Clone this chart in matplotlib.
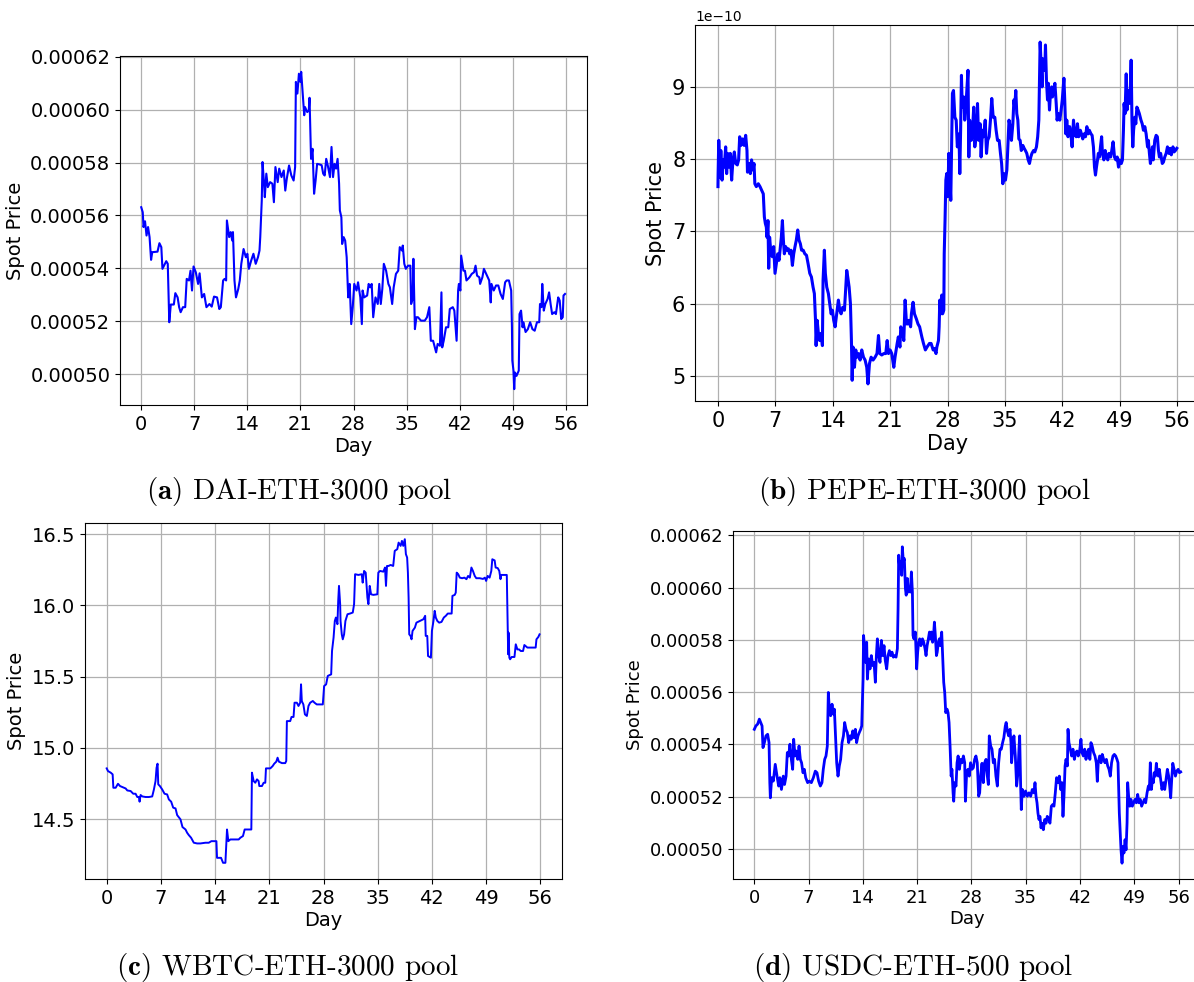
import numpy as np
import matplotlib
matplotlib.use("Agg")
import matplotlib.pyplot as plt

plt.rcParams["mathtext.fontset"] = "cm"

# ---- DAI-ETH-3000 (price in 1e-6) ----
dai_day = [0, 0.2, 0.3, 0.5, 0.7, 0.9, 1.1, 1.3, 1.45, 2.15, 2.4, 2.65, 2.8, 3.3, 3.5, 3.7, 3.9, 4.3,
           4.5, 4.8, 5.0, 5.2, 5.5, 5.8, 6.0, 6.3, 6.5, 6.7, 6.9, 7.2, 7.5, 7.7, 8.0, 8.3, 8.6, 9.0,
           9.3, 9.6, 10.0, 10.3, 10.5, 10.8, 11.0, 11.2, 11.3, 11.6, 11.8, 12.0, 12.1, 12.3, 12.5,
           12.8, 13.0, 13.2, 13.4, 13.5, 13.8, 14.0, 14.2, 14.5, 14.8, 15.1, 15.4, 15.6, 15.7, 15.9,
           16.0, 16.2, 16.3, 16.5, 16.7, 17.0, 17.3, 17.5, 17.7, 18.0, 18.2, 18.5, 18.8, 19.0, 19.2,
           19.5, 19.8, 20.1, 20.3, 20.4, 20.6, 20.8, 21.0, 21.1, 21.3, 21.5, 21.6, 21.9, 22.1, 22.2,
           22.4, 22.6, 22.8, 23.0, 23.2, 23.5, 23.8, 24.0, 24.2, 24.4, 24.6, 24.9, 25.1, 25.3, 25.5,
           25.7, 25.9, 26.1, 26.2, 26.4, 26.5, 26.7, 26.9, 27.1, 27.2, 27.3, 27.5, 27.7, 27.9, 28.1,
           28.4, 28.6, 28.9, 29.1, 29.2, 29.4, 29.8, 30.0, 30.2, 30.4, 30.6, 30.9, 31.2, 31.4, 31.6,
           31.8, 32.0, 32.3, 32.6, 32.8, 33.1, 33.3, 33.6, 33.9, 34.1, 34.4, 34.5, 34.7, 34.9, 35.2,
           35.5, 35.6, 35.8, 35.9, 36.1, 36.3, 36.5, 36.9, 37.4, 37.7, 38.0, 38.2, 38.5, 38.9, 39.1,
           39.4, 39.6, 39.7, 39.9, 40.2, 40.5, 40.7, 41.1, 41.3, 41.6, 41.8, 41.9, 42.1, 42.2, 42.5,
           42.7, 42.9, 43.3, 43.6, 43.9, 44.1, 44.3, 44.6, 44.7, 45.0, 45.2, 45.5, 45.9, 46.1, 46.2,
           46.5, 46.8, 47.1, 47.4, 47.7, 48.0, 48.2, 48.5, 48.8, 48.9, 48.95, 49.1, 49.2, 49.3, 49.5,
           49.7, 49.8, 49.9, 50.1, 50.3, 50.4, 50.7, 51.0, 51.3, 51.6, 51.9, 52.2, 52.5, 52.6, 52.8,
           52.9, 53.1, 53.3, 53.6, 53.8, 54.0, 54.2, 54.5, 54.7, 55.0, 55.2, 55.4, 55.6, 55.7, 55.9]
dai_price = [563.1, 561.2, 555.6, 557.8, 552.4, 555.6, 551.8, 543.2, 546.1, 546.3, 549.5, 548.0, 539.8,
             542.7, 541.7, 519.6, 526.3, 526.3, 530.6, 529.0, 525.3, 523.4, 525.3, 525.3, 536.0, 535.4,
             539.1, 531.6, 540.7, 538.5, 534.1, 538.1, 529.0, 530.3, 525.3, 526.5, 525.5, 529.3, 529.0,
             524.6, 525.3, 535.4, 536.0, 535.4, 558.1, 551.8, 553.7, 550.5, 553.7, 535.4, 529.0, 532.2,
             535.4, 541.7, 545.5, 547.3, 544.2, 545.5, 539.8, 542.9, 545.5, 541.7, 544.2, 546.7, 551.8,
             565.7, 580.2, 572.0, 566.9, 575.8, 570.7, 572.6, 572.0, 565.0, 578.3, 572.6, 577.7, 574.5,
             577.0, 569.4, 573.9, 578.9, 575.1, 573.2, 578.3, 610.5, 606.1, 613.6, 610.5, 614.3, 606.1,
             597.9, 601.0, 599.1, 599.7, 604.5, 581.4, 585.2, 568.2, 573.2, 579.5, 579.3, 579.0, 575.8,
             575.1, 581.4, 579.0, 574.5, 585.9, 574.5, 579.5, 577.7, 581.4, 572.0, 561.9, 559.3, 549.2,
             551.8, 550.5, 544.2, 536.6, 529.0, 534.1, 518.9, 525.3, 534.1, 531.6, 534.7, 529.0, 518.9,
             531.6, 529.0, 529.7, 534.1, 532.8, 534.1, 521.5, 529.0, 526.5, 534.1, 526.5, 532.2, 541.7,
             539.1, 534.1, 532.8, 526.5, 532.8, 537.9, 539.1, 548.0, 546.7, 548.6, 541.7, 539.8, 541.0,
             541.0, 526.5, 528.4, 543.6, 517.0, 521.5, 521.5, 520.2, 520.2, 521.5, 525.3, 512.6, 512.6,
             508.2, 511.4, 510.7, 530.9, 510.1, 512.6, 517.7, 517.7, 524.6, 525.3, 524.0, 512.6, 531.6,
             534.1, 531.6, 544.8, 539.1, 539.1, 535.4, 536.6, 537.9, 538.5, 541.0, 537.2, 536.6, 534.1,
             536.6, 539.8, 537.9, 535.4, 527.1, 534.1, 531.6, 533.5, 533.5, 530.3, 528.4, 534.7, 535.4,
             535.4, 531.6, 517.7, 505.1, 501.3, 494.3, 500.6, 499.3, 500.6, 501.3, 522.7, 524.0, 517.7,
             519.6, 515.9, 517.0, 519.6, 517.0, 516.4, 519.6, 519.6, 526.5, 525.3, 534.1, 524.0, 526.5,
             528.4, 530.9, 526.5, 522.7, 523.4, 522.7, 529.0, 527.8, 520.8, 521.5, 529.7, 530.3]

# ---- PEPE-ETH-3000 (price in 1e-10) ----
pepe_day = [0.0, 0.02, 0.1, 0.25, 0.35, 0.5, 0.65, 0.77, 0.94, 1.06, 1.18, 1.34, 1.5, 1.67, 1.83, 2.0,
            2.16, 2.36, 2.52, 2.65, 2.81, 3.0, 3.2, 3.38, 3.54, 3.6, 3.78, 3.95, 4.1, 4.27, 4.4, 4.5,
            4.68, 4.92, 5.13, 5.33, 5.53, 5.66, 5.78, 5.9, 5.98, 6.1, 6.19, 6.3, 6.47, 6.63, 6.8, 6.96,
            7.12, 7.29, 7.45, 7.61, 7.73, 7.86, 7.98, 8.1, 8.26, 8.42, 8.59, 8.75, 8.91, 9.08, 9.24,
            9.4, 9.56, 9.73, 9.89, 10.05, 10.2, 10.4, 10.6, 10.8, 11.0, 11.2, 11.4, 11.6, 11.76, 11.9,
            11.97, 12.1, 12.25, 12.41, 12.58, 12.74, 12.82, 12.98, 13.1, 13.27, 13.47, 13.63, 13.8,
            13.96, 14.12, 14.29, 14.49, 14.69, 14.86, 15.02, 15.22, 15.43, 15.59, 15.71, 15.83, 16.0,
            16.16, 16.28, 16.37, 16.48, 16.65, 16.81, 16.97, 17.14, 17.34, 17.54, 17.75, 17.95, 18.15,
            18.3, 18.48, 18.68, 18.92, 19.17, 19.4, 19.58, 19.74, 19.98, 20.23, 20.47, 20.64, 20.8,
            21.0, 21.2, 21.45, 21.6, 21.86, 22.0, 22.2, 22.3, 22.5, 22.67, 22.83, 23.0, 23.16, 23.3,
            23.5, 23.6, 23.8, 23.97, 24.2, 24.4, 24.6, 24.87, 25.07, 25.3, 25.5, 25.8, 26.0, 26.25,
            26.4, 26.6, 26.7, 26.9, 26.98, 27.06, 27.2, 27.3, 27.4, 27.55, 27.6, 27.7, 27.8, 27.9,
            28.04, 28.16, 28.3, 28.4, 28.5, 28.6, 28.73, 28.9, 29.06, 29.2, 29.4, 29.5, 29.6, 29.7,
            29.8, 30.0, 30.1, 30.24, 30.36, 30.5, 30.6, 30.7, 30.9, 31.05, 31.2, 31.33, 31.5, 31.66,
            31.8, 31.98, 32.1, 32.27, 32.4, 32.6, 32.76, 32.9, 33.08, 33.24, 33.4, 33.57, 33.77, 33.93,
            34.1, 34.3, 34.46, 34.6, 34.75, 34.9, 35.07, 35.24, 35.36, 35.5, 35.64, 35.8, 35.97, 36.1,
            36.2, 36.33, 36.45, 36.58, 36.7, 36.86, 37.0, 37.19, 37.35, 37.5, 37.67, 37.84, 38.0,
            38.16, 38.3, 38.5, 38.65, 38.85, 39.0, 39.14, 39.2, 39.3, 39.42, 39.54, 39.6, 39.75, 39.87,
            39.95, 40.07, 40.2, 40.3, 40.44, 40.56, 40.7, 40.8, 40.93, 41.1, 41.26, 41.37, 41.5, 41.7,
            41.86, 42.0, 42.2, 42.3, 42.43, 42.55, 42.7, 42.9, 43.04, 43.2, 43.37, 43.5, 43.7, 43.85,
            44.0, 44.2, 44.34, 44.5, 44.67, 44.83, 45.0, 45.15, 45.3, 45.5, 45.64, 45.8, 45.93, 46.05,
            46.17, 46.3, 46.4, 46.54, 46.66, 46.8, 46.9, 47.07, 47.23, 47.4, 47.55, 47.7, 47.9, 48.04,
            48.2, 48.37, 48.53, 48.7, 48.86, 49.0, 49.2, 49.34, 49.46, 49.54, 49.66, 49.8, 49.9, 50.04,
            50.15, 50.27, 50.4, 50.5, 50.6, 50.7, 50.85, 50.97, 51.1, 51.25, 51.4, 51.6, 51.75, 51.9,
            52.07, 52.23, 52.4, 52.5, 52.63, 52.75, 52.87, 53.0, 53.1, 53.28, 53.45, 53.6, 53.73,
            53.85, 54.0, 54.2, 54.34, 54.5, 54.67, 54.83, 55.0, 55.15, 55.3, 55.5, 55.64, 55.8, 55.97]
pepe_price = [7.62, 7.80, 8.26, 7.75, 8.12, 7.71, 7.99, 7.89, 8.17, 7.80, 8.08, 7.89, 8.08, 7.71, 7.99,
              8.10, 7.94, 7.92, 7.99, 8.31, 8.19, 8.28, 8.19, 8.33, 8.12, 7.82, 7.94, 7.80, 7.99, 7.85,
              7.94, 7.66, 7.62, 7.66, 7.62, 7.57, 7.52, 7.20, 7.11, 7.06, 6.92, 7.15, 6.49, 6.92, 6.69,
              6.65, 6.79, 6.42, 6.55, 6.69, 6.60, 6.79, 6.92, 7.15, 6.88, 6.69, 6.79, 6.74, 6.76, 6.69,
              6.74, 6.53, 6.69, 6.79, 6.88, 7.02, 6.88, 6.83, 6.74, 6.74, 6.69, 6.67, 6.55, 6.42, 6.37,
              6.23, 6.14, 5.77, 5.42, 5.77, 5.59, 5.49, 5.59, 5.42, 6.32, 6.74, 6.42, 6.23, 6.14, 6.00,
              5.86, 5.91, 5.77, 5.68, 5.86, 6.05, 5.91, 5.86, 5.95, 5.91, 6.23, 6.46, 6.37, 6.23, 6.00,
              5.49, 4.94, 5.40, 5.12, 5.36, 5.26, 5.31, 5.22, 5.36, 5.26, 5.22, 5.12, 4.89, 5.17, 5.26,
              5.22, 5.26, 5.31, 5.56, 5.31, 5.29, 5.31, 5.31, 5.49, 5.31, 5.36, 5.31, 5.12, 5.26, 5.45,
              5.54, 5.40, 5.68, 5.63, 5.49, 6.05, 5.72, 5.72, 5.77, 5.68, 5.86, 6.02, 5.86, 5.79, 5.72,
              5.68, 5.54, 5.45, 5.36, 5.40, 5.45, 5.45, 5.36, 5.38, 5.31, 5.40, 5.49, 5.68, 6.05, 5.86,
              6.12, 5.86, 5.91, 6.69, 7.15, 7.71, 7.80, 7.48, 8.08, 7.71, 7.43, 8.17, 8.91, 8.95, 8.58,
              8.54, 8.17, 8.35, 7.80, 8.40, 9.16, 8.72, 8.86, 8.54, 8.72, 8.95, 9.23, 8.03, 8.54, 8.26,
              8.40, 8.72, 8.17, 8.35, 8.77, 8.26, 8.49, 8.03, 8.40, 8.31, 8.54, 8.08, 8.26, 8.31, 8.54,
              8.84, 8.58, 8.58, 8.40, 8.26, 8.26, 8.08, 7.94, 7.66, 7.80, 7.71, 7.85, 8.17, 8.54, 8.45,
              8.26, 8.49, 8.82, 8.72, 8.95, 8.63, 8.54, 8.28, 8.26, 8.12, 8.19, 8.15, 8.12, 8.08, 7.99,
              7.94, 8.03, 8.08, 8.12, 8.10, 8.17, 8.31, 8.54, 8.95, 9.62, 9.32, 9.00, 9.39, 9.28, 9.23,
              9.58, 9.09, 8.82, 9.05, 8.68, 8.91, 9.00, 8.86, 8.95, 9.05, 8.77, 8.54, 8.63, 8.54, 8.68,
              8.82, 9.12, 8.82, 8.35, 8.54, 8.31, 8.45, 8.35, 8.17, 8.54, 8.35, 8.31, 8.49, 8.31, 8.40,
              8.35, 8.28, 8.35, 8.31, 8.45, 8.35, 8.40, 8.35, 8.33, 8.17, 7.89, 7.78, 7.89, 7.99, 8.08,
              8.03, 8.17, 8.31, 8.08, 7.99, 8.12, 8.03, 7.99, 8.08, 8.03, 8.12, 8.24, 8.03, 7.99, 8.03,
              7.89, 7.99, 7.94, 7.99, 8.40, 8.77, 8.63, 9.18, 8.68, 8.95, 8.77, 8.86, 9.37, 8.54, 8.17,
              8.40, 8.58, 8.49, 8.72, 8.68, 8.63, 8.54, 8.49, 8.40, 8.45, 8.35, 8.17, 8.26, 8.08, 7.94,
              8.03, 8.17, 7.99, 8.26, 8.33, 8.31, 8.12, 8.03, 8.08, 7.94, 7.96, 8.03, 8.08, 8.17, 8.08,
              8.15, 8.06, 8.17, 8.10, 8.12, 8.15]

# ---- WBTC-ETH-3000 ----
wbtc_day = [0, 0.17, 0.52, 0.77, 0.86, 1.16, 1.46, 1.72, 2.02, 2.45, 2.66, 3.09, 3.43, 3.73, 3.95, 4.16,
            4.25, 4.38, 4.6, 5.02, 5.45, 5.88, 6.1, 6.31, 6.44, 6.57, 6.66, 6.87, 7.17, 7.47, 7.81,
            8.03, 8.33, 8.59, 8.89, 9.1, 9.53, 9.79, 10.18, 10.39, 10.6, 10.9, 11.25, 11.68, 12.1,
            12.75, 13.18, 13.52, 14.17, 14.25, 14.77, 15.03, 15.33, 15.46, 15.54, 15.71, 15.97, 16.4,
            17.05, 17.26, 17.6, 17.82, 18.12, 18.68, 18.76, 18.98, 19.19, 19.41, 19.62, 19.71, 20.05,
            20.27, 20.48, 20.57, 21.13, 21.43, 21.64, 21.9, 22.07, 22.24, 22.63, 23.06, 23.19, 23.27,
            23.7, 23.87, 24.13, 24.26, 24.56, 24.77, 24.99, 25.1, 25.2, 25.4, 25.6, 25.85, 26.06,
            26.28, 26.62, 26.84, 27.13, 27.91, 28.08, 28.34, 28.55, 28.99, 29.1, 29.3, 29.46, 29.6,
            29.8, 29.9, 30.0, 30.15, 30.2, 30.36, 30.49, 30.66, 30.83, 31.1, 31.43, 31.78, 31.95,
            32.08, 32.5, 32.94, 33.06, 33.24, 33.45, 33.67, 33.8, 33.97, 34.14, 34.44, 34.95, 35.08,
            35.3, 35.73, 35.94, 36.07, 36.2, 36.4, 36.67, 37.0, 37.2, 37.53, 37.7, 37.96, 38.13, 38.3,
            38.5, 38.64, 38.8, 38.9, 38.99, 39.07, 39.24, 39.37, 39.5, 39.8, 40.0, 40.45, 40.9, 41.13,
            41.2, 41.4, 41.5, 41.87, 42.0, 42.2, 42.36, 42.5, 42.7, 42.94, 43.24, 43.54, 43.8, 44.05,
            44.3, 44.55, 44.65, 44.95, 45.08, 45.2, 45.4, 45.6, 45.9, 46.2, 46.46, 46.67, 46.9, 47.1,
            47.3, 47.53, 47.73, 48.17, 48.6, 48.84, 49.0, 49.2, 49.45, 49.67, 49.8, 50.1, 50.23, 50.5,
            50.7, 50.86, 50.94, 51.37, 51.67, 51.8, 51.85, 51.9, 52.0, 52.1, 52.3, 52.66, 52.83,
            53.04, 53.26, 53.47, 53.77, 53.94, 54.33, 54.98, 55.4, 55.5, 55.75, 55.9]
wbtc_price = [14.856, 14.837, 14.826, 14.814, 14.720, 14.720, 14.748, 14.732, 14.725, 14.715, 14.701,
              14.697, 14.678, 14.678, 14.655, 14.655, 14.622, 14.669, 14.659, 14.655, 14.655, 14.659,
              14.708, 14.767, 14.860, 14.889, 14.744, 14.732, 14.708, 14.678, 14.673, 14.638, 14.622,
              14.580, 14.575, 14.528, 14.498, 14.444, 14.427, 14.404, 14.388, 14.369, 14.334, 14.329,
              14.329, 14.334, 14.334, 14.345, 14.345, 14.228, 14.228, 14.193, 14.193, 14.345, 14.427,
              14.345, 14.357, 14.357, 14.357, 14.369, 14.381, 14.427, 14.427, 14.427, 14.826, 14.767,
              14.755, 14.779, 14.767, 14.732, 14.732, 14.755, 14.755, 14.856, 14.856, 14.872, 14.889,
              14.903, 14.931, 14.903, 14.893, 14.893, 14.908, 15.188, 15.188, 15.217, 15.217, 15.317,
              15.317, 15.294, 15.317, 15.446, 15.328, 15.305, 15.235, 15.224, 15.294, 15.317, 15.329,
              15.317, 15.305, 15.305, 15.434, 15.446, 15.505, 15.516, 15.680, 15.774, 15.891, 15.915,
              15.868, 16.032, 16.137, 16.009, 15.891, 15.797, 15.762, 15.797, 15.891, 15.938, 15.943,
              15.950, 16.009, 16.219, 16.214, 16.219, 16.160, 16.242, 16.230, 16.055, 16.009, 16.137,
              16.078, 16.074, 16.078, 16.230, 16.242, 16.237, 16.266, 16.137, 16.277, 16.277, 16.284,
              16.277, 16.383, 16.395, 16.441, 16.418, 16.453, 16.418, 16.465, 16.360, 16.336, 16.230,
              16.055, 15.797, 15.786, 15.762, 15.821, 15.844, 15.879, 15.891, 15.903, 15.927, 15.786,
              15.786, 15.645, 15.633, 15.821, 15.891, 15.962, 15.915, 15.891, 15.879, 15.884, 15.915,
              15.927, 15.943, 15.943, 15.943, 16.067, 16.074, 16.090, 16.230, 16.219, 16.195, 16.191,
              16.195, 16.184, 16.207, 16.195, 16.266, 16.242, 16.207, 16.191, 16.191, 16.186, 16.195,
              16.172, 16.207, 16.195, 16.242, 16.324, 16.316, 16.266, 16.262, 16.242, 16.184, 16.214,
              16.214, 16.214, 15.797, 15.657, 15.809, 15.633, 15.622, 15.638, 15.638, 15.727, 15.691,
              15.691, 15.680, 15.680, 15.722, 15.704, 15.704, 15.704, 15.762, 15.779, 15.797]

# ---- USDC-ETH-500 (price in 1e-6) ----
usdc_day = [0, 0.2, 0.43, 0.65, 0.82, 1.0, 1.12, 1.3, 1.5, 1.72, 1.9, 2.0, 2.07, 2.24, 2.45, 2.7, 2.93,
            3.14, 3.3, 3.5, 3.74, 3.9, 4.1, 4.26, 4.43, 4.6, 4.78, 4.95, 5.08, 5.25, 5.42, 5.6, 5.77,
            5.94, 6.1, 6.28, 6.45, 6.63, 6.88, 7.1, 7.36, 7.62, 7.87, 8.09, 8.3, 8.52, 8.73, 8.9, 9.08,
            9.25, 9.42, 9.55, 9.68, 9.85, 10.03, 10.2, 10.33, 10.5, 10.63, 10.8, 10.97, 11.14, 11.32,
            11.5, 11.66, 11.83, 12.0, 12.18, 12.35, 12.52, 12.7, 12.87, 13.04, 13.2, 13.38, 13.55,
            13.73, 13.86, 13.94, 14.03, 14.1, 14.24, 14.37, 14.5, 14.59, 14.76, 14.93, 15.1, 15.28,
            15.45, 15.62, 15.75, 15.88, 16.05, 16.22, 16.4, 16.57, 16.74, 16.9, 17.08, 17.25, 17.43,
            17.6, 17.77, 17.94, 18.1, 18.29, 18.46, 18.55, 18.63, 18.76, 18.9, 19.02, 19.1, 19.23,
            19.36, 19.5, 19.6, 19.75, 19.88, 20.0, 20.14, 20.27, 20.4, 20.48, 20.6, 20.78, 20.87,
            20.95, 21.08, 21.2, 21.34, 21.5, 21.7, 21.86, 22.03, 22.16, 22.3, 22.46, 22.6, 22.7, 22.85,
            23.0, 23.1, 23.24, 23.36, 23.5, 23.6, 23.75, 23.88, 24.0, 24.18, 24.3, 24.44, 24.57, 24.7,
            24.87, 25.0, 25.13, 25.26, 25.4, 25.5, 25.65, 25.73, 25.86, 26.03, 26.16, 26.3, 26.46,
            26.64, 26.8, 26.98, 27.15, 27.24, 27.4, 27.57, 27.74, 27.9, 28.09, 28.26, 28.43, 28.6,
            28.77, 28.95, 29.08, 29.2, 29.38, 29.55, 29.72, 29.9, 30.07, 30.2, 30.32, 30.5, 30.67,
            30.84, 31.0, 31.18, 31.36, 31.53, 31.7, 31.87, 32.04, 32.2, 32.39, 32.5, 32.65, 32.82,
            33.0, 33.12, 33.2, 33.34, 33.5, 33.68, 33.85, 34.02, 34.15, 34.24, 34.37, 34.45, 34.58,
            34.8, 35.0, 35.23, 35.44, 35.66, 35.87, 36.09, 36.22, 36.35, 36.48, 36.6, 36.73, 36.86,
            37.0, 37.12, 37.3, 37.47, 37.64, 37.8, 37.98, 38.15, 38.33, 38.5, 38.67, 38.84, 39.0,
            39.19, 39.36, 39.53, 39.7, 39.83, 39.96, 40.1, 40.22, 40.4, 40.48, 40.6, 40.78, 40.95,
            41.12, 41.3, 41.47, 41.64, 41.8, 41.98, 42.15, 42.28, 42.46, 42.63, 42.8, 42.97, 43.14,
            43.3, 43.44, 43.6, 43.78, 43.96, 44.13, 44.26, 44.38, 44.56, 44.74, 44.9, 45.08, 45.25,
            45.43, 45.6, 45.77, 45.94, 46.1, 46.28, 46.46, 46.63, 46.8, 46.93, 47.0, 47.1, 47.2, 47.32,
            47.45, 47.58, 47.7, 47.84, 47.97, 48.1, 48.18, 48.3, 48.44, 48.6, 48.78, 48.95, 49.13,
            49.3, 49.47, 49.64, 49.8, 49.98, 50.16, 50.33, 50.5, 50.68, 50.85, 50.98, 51.1, 51.24,
            51.37, 51.5, 51.6, 51.75, 51.88, 52.0, 52.14, 52.27, 52.44, 52.6, 52.8, 52.96, 53.13, 53.3,
            53.47, 53.6, 53.73, 53.86, 54.0, 54.17, 54.34, 54.5, 54.7, 54.86, 55.02]
usdc_price = [545.8, 547.1, 547.8, 549.7, 548.4, 547.1, 538.8, 540.7, 543.3, 543.9, 540.7, 525.4, 519.6,
              527.3, 526.0, 532.4, 527.9, 524.1, 527.3, 522.8, 527.9, 524.7, 527.9, 536.9, 535.6, 540.1,
              534.3, 530.5, 542.0, 535.6, 537.5, 534.3, 539.4, 534.3, 533.0, 529.2, 530.5, 527.3, 525.4,
              526.0, 525.4, 527.3, 529.8, 529.2, 526.0, 524.1, 525.4, 530.5, 534.3, 535.6, 539.4, 559.9,
              553.5, 551.0, 555.4, 551.6, 553.5, 542.0, 533.0, 527.9, 531.8, 534.3, 540.7, 543.3, 548.4,
              545.8, 544.6, 540.7, 543.3, 542.0, 545.2, 542.6, 545.8, 540.7, 543.3, 544.6, 545.8, 547.1,
              556.1, 565.0, 581.7, 576.6, 571.4, 579.1, 565.0, 572.7, 568.9, 574.0, 570.2, 571.4, 563.8,
              574.0, 580.4, 574.0, 571.4, 579.8, 574.0, 577.8, 572.1, 568.9, 574.0, 575.9, 574.0, 575.3,
              573.4, 574.0, 573.4, 576.6, 591.9, 612.4, 607.3, 609.9, 604.7, 615.6, 609.9, 611.1, 599.6,
              597.1, 603.5, 598.3, 599.6, 598.3, 606.0, 598.3, 581.7, 580.4, 583.0, 575.3, 568.9, 575.3,
              579.1, 580.4, 577.8, 580.4, 579.1, 576.6, 574.0, 577.8, 580.4, 583.0, 580.4, 583.0, 579.1,
              580.4, 586.8, 581.7, 574.0, 575.3, 579.1, 580.4, 577.8, 583.0, 574.0, 563.8, 559.9, 552.2,
              553.5, 552.2, 548.4, 539.4, 527.9, 530.5, 521.5, 518.3, 525.4, 524.1, 533.0, 535.6, 530.5,
              534.3, 533.0, 535.6, 533.0, 518.3, 529.2, 530.5, 527.9, 533.0, 530.5, 531.1, 534.3, 535.6,
              533.0, 520.2, 521.5, 527.9, 532.8, 525.4, 533.0, 534.3, 527.9, 524.7, 543.3, 539.4, 538.2,
              533.0, 534.3, 527.9, 524.1, 533.0, 538.2, 538.2, 540.7, 542.6, 547.1, 548.4, 545.2, 543.3,
              545.8, 540.7, 533.0, 538.2, 543.3, 535.6, 524.1, 529.2, 538.2, 543.3, 524.1, 515.1, 522.8,
              520.2, 522.2, 520.2, 521.5, 520.2, 522.8, 521.5, 525.4, 520.2, 517.7, 513.8, 511.3, 512.5,
              508.1, 509.9, 507.4, 511.3, 509.9, 512.5, 511.3, 509.9, 516.4, 517.0, 516.4, 521.5, 527.3,
              525.4, 527.9, 522.8, 525.4, 512.5, 520.2, 531.8, 534.3, 531.8, 545.8, 540.7, 538.2, 535.6,
              538.2, 534.3, 536.9, 537.5, 535.6, 537.5, 542.0, 536.9, 535.6, 538.2, 534.3, 536.9, 538.2,
              534.3, 540.7, 539.4, 536.9, 535.6, 533.0, 525.9, 533.0, 535.6, 533.0, 536.2, 534.3, 533.0,
              534.3, 531.8, 530.5, 527.9, 533.0, 535.6, 536.2, 535.6, 534.3, 533.0, 525.4, 513.8, 507.4,
              499.7, 494.6, 501.0, 498.5, 503.6, 499.7, 510.0, 525.4, 520.2, 516.4, 519.0, 516.4, 517.7,
              519.0, 517.7, 520.9, 517.7, 519.0, 516.4, 517.7, 519.0, 517.7, 521.5, 524.1, 522.8, 533.0,
              522.8, 526.6, 525.4, 529.2, 527.9, 532.8, 529.2, 527.9, 530.5, 526.6, 522.8, 525.4, 522.8,
              526.6, 530.5, 527.9, 524.1, 519.6, 526.6, 532.8, 530.5, 527.9, 529.8, 530.5, 529.2, 529.5]

day_ticks = [0, 7, 14, 21, 28, 35, 42, 49, 56]
usdc_ticks = [0, 7, 14, 21, 28, 35, 42, 49, 54.85]

W, H = 1194, 982
fig = plt.figure(figsize=(W / 100, H / 100), dpi=100)


def px_axes(left, top, right, bottom):
    return fig.add_axes([left / W, 1 - bottom / H, (right - left) / W, (bottom - top) / H])


def style(ax, tick_fs, label_fs, ticks, xlim):
    ax.set_xticks(ticks)
    ax.set_xticklabels([str(t) for t in day_ticks])
    ax.set_xlim(*xlim)
    ax.tick_params(labelsize=tick_fs)
    ax.set_xlabel("Day", fontsize=label_fs, labelpad=2)
    ax.set_ylabel("Spot Price", fontsize=label_fs, labelpad=4)
    ax.grid(True, color="#b0b0b0", linewidth=0.9)


ax_a = px_axes(120, 56, 587, 405)
ax_a.plot(dai_day, np.array(dai_price) * 1e-6, color="blue", linewidth=1.5)
style(ax_a, 14, 14, day_ticks, (-2.8, 58.8))

ax_b = px_axes(695, 25, 1200, 401)
ax_b.plot(pepe_day, np.array(pepe_price) * 1e-10, color="blue", linewidth=2.2)
style(ax_b, 15, 15, day_ticks, (-2.8, 58.8))
ax_b.yaxis.get_offset_text().set_fontsize(10)

ax_c = px_axes(85, 523, 562, 879)
ax_c.plot(wbtc_day, wbtc_price, color="blue", linewidth=1.4)
style(ax_c, 14, 14, day_ticks, (-2.8, 58.8))

ax_d = px_axes(733, 531, 1202, 879)
ax_d.plot(usdc_day, np.array(usdc_price) * 1e-6, color="blue", linewidth=2.0)
style(ax_d, 13, 13, usdc_ticks, (-2.75, 57.77))

captions = [(299, 492, "a", "DAI-ETH-3000 pool"),
            (925, 492, "b", "PEPE-ETH-3000 pool"),
            (288, 967, "c", "WBTC-ETH-3000 pool"),
            (913, 967, "d", "USDC-ETH-500 pool")]
for cx, cy, letter, name in captions:
    fig.text(cx / W, 1 - cy / H, r"$\mathbf{(" + letter + r")}$ " + name,
             family="cmr10", fontsize=21, ha="center", va="center")

fig.savefig("out.png", dpi=100)
